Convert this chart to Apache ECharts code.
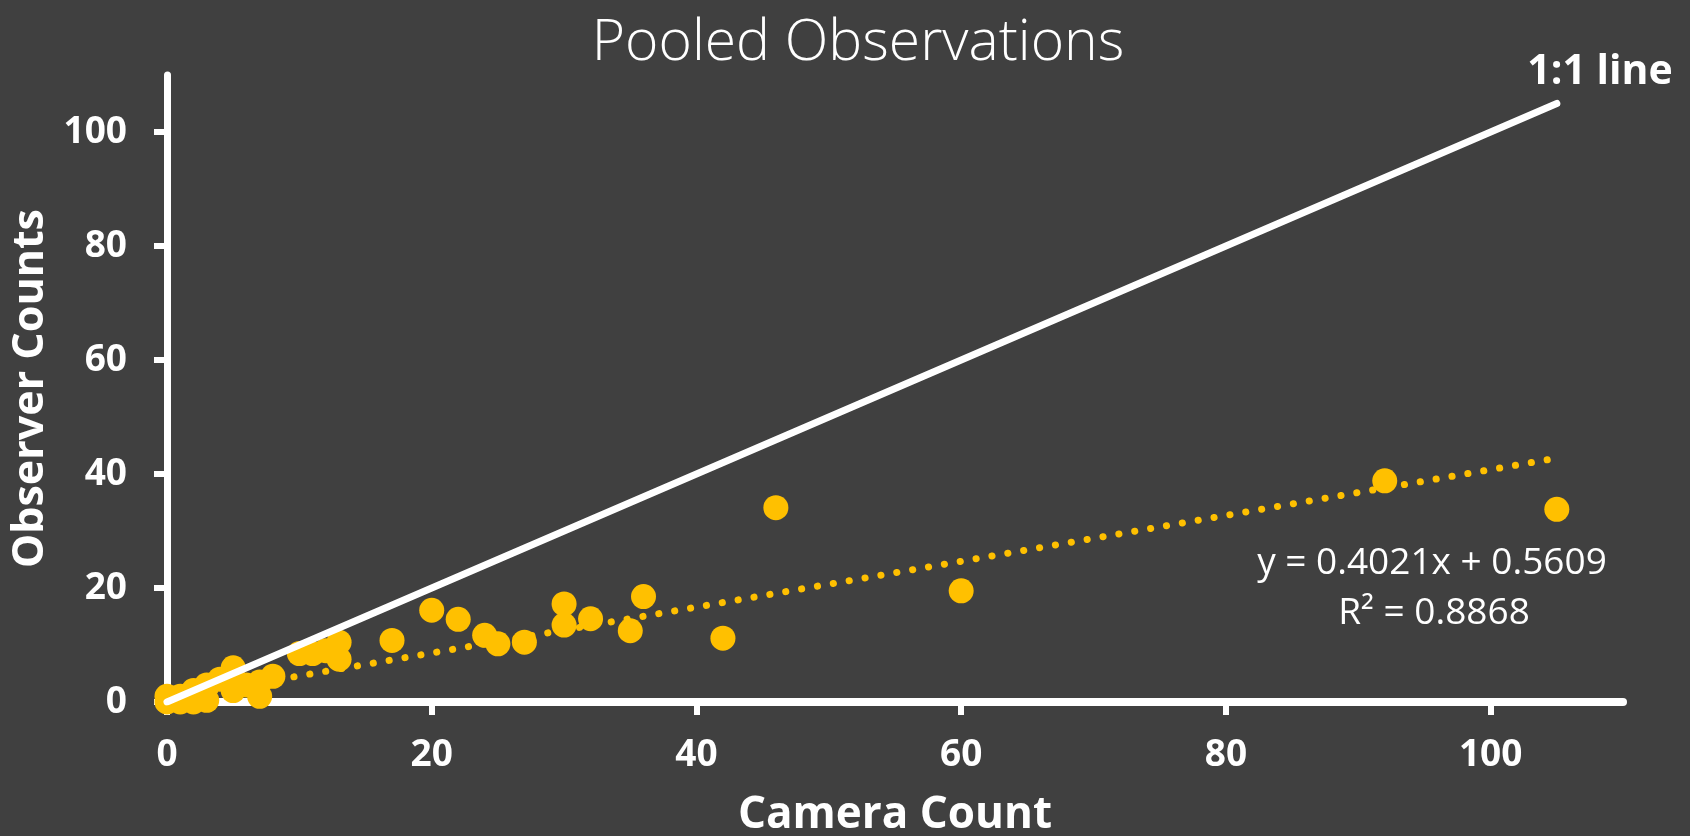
<!DOCTYPE html>
<html><head><meta charset="utf-8">
<script src="https://cdn.jsdelivr.net/npm/echarts@6/dist/echarts.min.js"></script>
<style>html,body{margin:0;padding:0;background:#404040;}#c{width:1690px;height:836px;}</style>
</head><body><div id="c"></div>
<script>
// Data
const cameraCount   = [0, 0, 1, 1, 2, 2, 3, 3, 4, 5, 5, 6, 7, 7, 8, 10, 11, 12, 13, 13, 17, 20, 22, 24, 25, 27, 30, 30, 32, 35, 36, 42, 46, 60, 92, 105];
const observerCount = [0, 1, 0, 1, 0, 2, 0.3, 3, 4, 2, 6, 3, 1, 3.5, 4.5, 8.5, 8.5, 9, 10.5, 7.5, 10.8, 16.1, 14.5, 11.7, 10.2, 10.5, 17.2, 13.5, 14.6, 12.5, 18.5, 11.2, 34.1, 19.5, 38.8, 33.8];
const xTickValues = [0, 20, 40, 60, 80, 100];
const yTickValues = [0, 20, 40, 60, 80, 100];
const oneToOneEnds = [0, 105];
const trendXRange = [0, 105];
const trendSlope = 0.4021;
const trendIntercept = 0.5609;
const trendR2 = 0.8868;

const FONT = 'Open Sans';
const YELLOW = '#FFC000';
const WHITE = '#FFFFFF';

const points = cameraCount.map((x, i) => [x, observerCount[i]]);
const trendLine = trendXRange.map(x => [x, trendSlope * x + trendIntercept]);
const oneToOne = oneToOneEnds.map(v => [v, v]);

const chart = echarts.init(document.getElementById('c'), null, {renderer: 'canvas'});
chart.setOption({
  backgroundColor: '#404040',
  animation: false,
  title: {
    text: 'Pooled Observations',
    left: 853, top: 10, textAlign: 'center',
    textStyle: {color: WHITE, fontFamily: FONT, fontWeight: 300, fontSize: 57}
  },
  grid: {left: 167, right: 67, top: 75, bottom: 134, containLabel: false, outerBoundsMode: 'none'},
  xAxis: {
    type: 'value', min: 0, max: 110, interval: 20,
    name: 'Camera Count', nameLocation: 'middle', nameGap: 91,
    nameTextStyle: {color: WHITE, fontFamily: FONT, fontWeight: 'bold', fontSize: 44},
    axisLine: {show: true, onZero: false, lineStyle: {color: WHITE, width: 8}},
    axisTick: {show: true, length: 13, customValues: xTickValues, lineStyle: {color: WHITE, width: 6}},
    axisLabel: {color: WHITE, fontFamily: FONT, fontWeight: 'bold', fontSize: 37, margin: 35, customValues: xTickValues},
    splitLine: {show: false}
  },
  yAxis: {
    type: 'value', min: 0, max: 110, interval: 20,
    name: 'Observer Counts', nameLocation: 'middle', nameGap: 113, nameRotate: 90,
    nameTextStyle: {color: WHITE, fontFamily: FONT, fontWeight: 'bold', fontSize: 43},
    axisLine: {show: true, onZero: false, lineStyle: {color: WHITE, width: 7}},
    axisTick: {show: true, length: 13, customValues: yTickValues, lineStyle: {color: WHITE, width: 6}},
    axisLabel: {color: WHITE, fontFamily: FONT, fontWeight: 'bold', fontSize: 37, margin: 40, customValues: yTickValues},
    splitLine: {show: false}
  },
  series: [
    {
      type: 'scatter', data: points, symbol: 'circle', symbolSize: 25,
      itemStyle: {color: YELLOW, opacity: 1}, z: 2
    },
    {
      type: 'line', data: trendLine, showSymbol: false, symbol: 'none', z: 3,
      lineStyle: {color: YELLOW, width: 7, type: [0.1, 16], cap: 'round'}
    },
    {
      type: 'line', data: oneToOne, showSymbol: false, symbol: 'none', z: 4,
      lineStyle: {color: WHITE, width: 7, cap: 'round'}
    }
  ],
  graphic: [
    {type: 'text', x: 1600, y: 72, z: 10,
     style: {text: '1:1 line', fill: WHITE, font: 'bold 41px "Open Sans"', textAlign: 'center', textVerticalAlign: 'middle'}},
    {type: 'text', x: 1432, y: 563, z: 10,
     style: {text: 'y = ' + trendSlope + 'x + ' + trendIntercept, fill: WHITE, font: '37px "Open Sans"', textAlign: 'center', textVerticalAlign: 'middle'}},
    {type: 'text', x: 1434, y: 613, z: 10,
     style: {text: 'R\u00B2 = ' + trendR2, fill: WHITE, font: '37px "Open Sans"', textAlign: 'center', textVerticalAlign: 'middle'}}
  ]
});
</script>
</body></html>
